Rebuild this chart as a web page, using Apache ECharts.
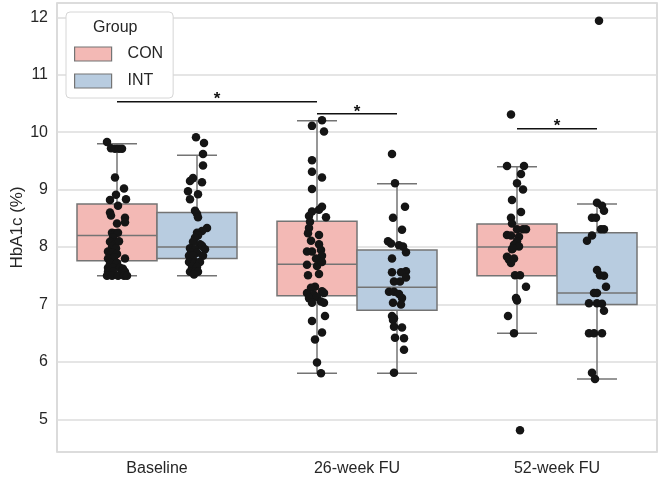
<!DOCTYPE html>
<html>
<head>
<meta charset="utf-8">
<script src="https://cdn.jsdelivr.net/npm/echarts@6/dist/echarts.min.js"></script>
<style>
  html, body { margin: 0; padding: 0; background: #fff; }
  #chart { width: 661px; height: 482px; }
</style>
</head>
<body>
<div id="chart"></div>
<script>
// categories and groups
const categories = ['Baseline', '26-week FU', '52-week FU'];
const groups = ['CON', 'INT'];

// box stats per category: [min, q1, median, q3, max]
const conBox = [[7.5, 7.76, 8.2, 8.75, 9.8], [5.8, 7.15, 7.7, 8.45, 10.2], [6.5, 7.5, 8.0, 8.4, 9.4]];
const intBox = [[7.5, 7.8, 8.0, 8.6, 9.6], [5.8, 6.9, 7.3, 7.95, 9.1], [5.7, 7.0, 7.2, 8.25, 8.75]];

// individual points: [jitter (category units), HbA1c]
const conBaseline = [
  [-0.05, 9.83], [-0.03, 9.72], [-0.01, 9.71], [0.01, 9.71], [0.025, 9.71], [-0.01, 9.21],
  [0.035, 9.02], [-0.005, 8.91], [0.045, 8.83], [-0.035, 8.82], [0.005, 8.72], [-0.035, 8.6],
  [-0.03, 8.55], [0.04, 8.51], [0, 8.41], [0.04, 8.43], [-0.025, 8.25], [-0.01, 8.24],
  [0.005, 8.25], [-0.02, 8.16], [-0.035, 8.09], [-0.01, 8.05], [0.01, 8.1], [-0.025, 8.0],
  [-0.005, 7.98], [-0.045, 7.92], [-0.025, 7.9], [0, 7.88], [-0.045, 7.8], [-0.015, 7.82],
  [0.04, 7.8], [-0.035, 7.72], [0, 7.72], [-0.045, 7.64], [-0.02, 7.64], [0.015, 7.64],
  [0.03, 7.62], [-0.045, 7.57], [-0.02, 7.57], [0.025, 7.57], [0.04, 7.57], [-0.05, 7.5],
  [-0.025, 7.5], [0.005, 7.5], [0.035, 7.5], [0.05, 7.5]
];
const intBaseline = [
  [-0.005, 9.91], [0.035, 9.81], [0.03, 9.62], [0.03, 9.42], [-0.02, 9.2], [-0.035, 9.15],
  [0.025, 9.13], [-0.045, 8.97], [0.005, 8.92], [-0.035, 8.83], [-0.01, 8.63], [0, 8.58],
  [0.005, 8.52], [0.05, 8.33], [0.025, 8.28], [0, 8.25], [0.005, 8.2], [-0.01, 8.16],
  [-0.02, 8.09], [0.015, 8.05], [0.025, 8.02], [-0.035, 7.98], [-0.01, 7.96], [0.04, 7.96],
  [-0.03, 7.9], [0, 7.9], [-0.04, 7.85], [-0.02, 7.85], [0.03, 7.85], [-0.04, 7.74],
  [-0.01, 7.74], [0.015, 7.74], [-0.025, 7.65], [0, 7.65], [-0.035, 7.57], [-0.01, 7.57],
  [0.005, 7.57], [-0.015, 7.52]
];
const conWeek26 = [
  [0.025, 10.21], [-0.025, 10.11], [0.035, 10.01], [-0.025, 9.51], [-0.025, 9.31], [0.025, 9.21],
  [-0.025, 9.01], [0.025, 8.7], [0.01, 8.65], [-0.025, 8.62], [0.045, 8.52], [-0.04, 8.54],
  [-0.035, 8.44], [-0.04, 8.33], [-0.045, 8.24], [0.01, 8.21], [-0.03, 8.11], [0.01, 8.05],
  [-0.05, 7.92], [-0.025, 7.92], [0.02, 7.95], [0.025, 7.85], [-0.005, 7.8], [-0.05, 7.69],
  [0, 7.67], [0.025, 7.74], [0.01, 7.53], [-0.045, 7.51], [-0.01, 7.31], [-0.03, 7.29],
  [0.025, 7.23], [0.035, 7.2], [-0.05, 7.2], [-0.015, 7.17], [-0.04, 7.11], [0, 7.13],
  [0.02, 7.05], [0.035, 7.03], [-0.025, 7.03], [0.04, 6.8], [-0.025, 6.71], [0.025, 6.51],
  [-0.01, 6.39], [0, 5.99], [0.02, 5.8]
];
const intWeek26 = [
  [-0.025, 9.62], [-0.01, 9.11], [0.04, 8.7], [-0.02, 8.51], [0.025, 8.3], [-0.045, 8.1],
  [-0.03, 8.06], [0.01, 8.03], [0.03, 8.01], [-0.025, 7.8], [0.045, 7.91], [0.045, 7.58],
  [0.02, 7.56], [-0.025, 7.56], [0.045, 7.47], [-0.015, 7.4], [0.015, 7.4], [-0.04, 7.22],
  [-0.015, 7.22], [0.01, 7.18], [0.025, 7.11], [-0.02, 7.03], [0.02, 7.0], [-0.025, 6.8],
  [-0.015, 6.76], [-0.02, 6.73], [-0.015, 6.61], [0.025, 6.6], [-0.01, 6.42], [0.035, 6.41],
  [0.035, 6.21], [-0.015, 5.81]
];
const conWeek52 = [
  [-0.03, 10.31], [-0.05, 9.41], [0.035, 9.41], [0.02, 9.27], [0, 9.11], [0.03, 9.0],
  [-0.025, 8.82], [0.02, 8.61], [-0.03, 8.51], [-0.025, 8.41], [0, 8.31], [0.03, 8.31],
  [0.045, 8.31], [-0.05, 8.21], [-0.03, 8.2], [0.01, 8.18], [0, 8.1], [-0.015, 8.04],
  [0.01, 8.01], [-0.025, 7.96], [-0.02, 7.98], [-0.05, 7.83], [-0.04, 7.78], [-0.015, 7.8],
  [-0.03, 7.72], [-0.01, 7.51], [0.015, 7.51], [0.045, 7.31], [-0.005, 7.11], [0, 7.07],
  [-0.045, 6.8], [-0.015, 6.5], [0.015, 4.81]
];
const intWeek52 = [
  [0.01, 11.94], [0, 8.77], [0.025, 8.72], [0.035, 8.63], [-0.025, 8.51], [-0.005, 8.51],
  [0.02, 8.31], [0.035, 8.31], [-0.025, 8.2], [-0.05, 8.11], [0, 7.6], [0.015, 7.51],
  [0.035, 7.5], [0.045, 7.31], [-0.015, 7.2], [0, 7.2], [-0.04, 7.02], [0, 7.02],
  [0.025, 7.01], [0.035, 6.89], [-0.04, 6.5], [-0.015, 6.5], [0.025, 6.5], [-0.025, 5.81],
  [-0.01, 5.7]
];

// significance bars: [category from, group from, category to, group to, height]
const sigBars = [[0, 'CON', 1, 'CON', 10.53], [1, 'CON', 1, 'INT', 10.32], [2, 'CON', 2, 'INT', 10.06]];

const colors = { CON: '#f3b9b5', INT: '#b8cce0' };
const edge = '#747474';
const dodge = { CON: -0.2, INT: 0.2 };
const font = '"Liberation Sans", Arial, sans-serif';

function boxData(stats, g) {
  return stats.map((s, i) => [i + dodge[g]].concat(s));
}
function pointData(lists, g) {
  let out = [];
  lists.forEach((pts, i) => pts.forEach(p => out.push([i + dodge[g] + p[0], p[1]])));
  return out;
}

function renderBox(params, api) {
  const x = api.value(0);
  const fill = colors[params.seriesName];
  const p = v => api.coord([x, v]);
  const xl = api.coord([x - 0.2, 0])[0], xr = api.coord([x + 0.2, 0])[0];
  const cl = api.coord([x - 0.1, 0])[0], cr = api.coord([x + 0.1, 0])[0];
  const cx = p(0)[0];
  const yMin = p(api.value(1))[1], yQ1 = p(api.value(2))[1], yMed = p(api.value(3))[1];
  const yQ3 = p(api.value(4))[1], yMax = p(api.value(5))[1];
  const ls = { stroke: edge, lineWidth: 1.5 };
  return {
    type: 'group',
    children: [
      { type: 'line', shape: { x1: cx, y1: yQ1, x2: cx, y2: yMin }, style: ls },
      { type: 'line', shape: { x1: cx, y1: yQ3, x2: cx, y2: yMax }, style: ls },
      { type: 'line', shape: { x1: cl, y1: yMin, x2: cr, y2: yMin }, style: ls },
      { type: 'line', shape: { x1: cl, y1: yMax, x2: cr, y2: yMax }, style: ls },
      { type: 'rect', shape: { x: xl, y: yQ3, width: xr - xl, height: yQ1 - yQ3 },
        style: { fill: fill, stroke: edge, lineWidth: 1.5 } },
      { type: 'line', shape: { x1: xl, y1: yMed, x2: xr, y2: yMed }, style: ls }
    ]
  };
}

function renderSig(params, api) {
  const a = api.coord([api.value(0), api.value(2)]);
  const b = api.coord([api.value(1), api.value(2)]);
  return {
    type: 'group',
    children: [
      { type: 'line', shape: { x1: a[0], y1: a[1], x2: b[0], y2: b[1] },
        style: { stroke: '#111', lineWidth: 1.5 } },
      { type: 'text', x: (a[0] + b[0]) / 2, y: a[1] - 2,
        style: { text: '*', fill: '#111', font: 'bold 17px ' + font, align: 'center', verticalAlign: 'middle' } }
    ]
  };
}

const chart = echarts.init(document.getElementById('chart'));
chart.setOption({
  animation: false,
  backgroundColor: '#fff',
  grid: { left: 57, right: 4, top: 3, bottom: 30, show: true, borderColor: '#d0d0d0', borderWidth: 1.5,
    outerBoundsMode: 'none', containLabel: false },
  xAxis: [
    { type: 'category', data: categories, axisLine: { show: false }, axisTick: { show: false },
      axisLabel: { fontSize: 16, color: '#262626', fontFamily: font, margin: 9 } },
    { type: 'value', min: -0.5, max: 2.5, show: false }
  ],
  yAxis: {
    type: 'value', min: 4.43, max: 12.25, splitNumber: 8,
    name: 'HbA1c (%)', nameLocation: 'middle', nameGap: 31, nameMoveOverlap: false,
    nameTextStyle: { fontSize: 17, color: '#262626', fontFamily: font },
    axisLine: { show: false }, axisTick: { show: false },
    axisLabel: { fontSize: 16, color: '#262626', fontFamily: font, margin: 9,
      formatter: v => (Math.abs(v - Math.round(v)) < 1e-6 ? String(Math.round(v)) : '') },
    splitLine: { lineStyle: { color: '#dcdcdc', width: 1.5 } }
  },
  legend: {
    orient: 'vertical', left: 66, top: 12, selectedMode: false,
    padding: [34, 10, 9, 8], itemWidth: 37, itemHeight: 14, itemGap: 11,
    backgroundColor: '#fff', borderColor: '#d6d6d6', borderWidth: 1, borderRadius: 4,
    textStyle: { fontSize: 16, color: '#262626', fontFamily: font, padding: [0, 0, 0, 11] },
    data: groups.map(g => ({ name: g, icon: 'rect', itemStyle: { color: colors[g], borderColor: edge, borderWidth: 1.2 } }))
  },
  graphic: [{ type: 'text', left: 93, top: 20, z: 100,
    style: { text: 'Group', font: '16px ' + font, fill: '#262626' } }],
  series: [
    { name: 'CON', type: 'custom', xAxisIndex: 1, z: 2, renderItem: renderBox, data: boxData(conBox, 'CON'), itemStyle: { color: colors.CON } },
    { name: 'INT', type: 'custom', xAxisIndex: 1, z: 2, renderItem: renderBox, data: boxData(intBox, 'INT'), itemStyle: { color: colors.INT } },
    { type: 'scatter', xAxisIndex: 1, z: 3, symbolSize: 8.5, itemStyle: { color: '#151515', opacity: 1 },
      data: pointData([conBaseline, conWeek26, conWeek52], 'CON') },
    { type: 'scatter', xAxisIndex: 1, z: 3, symbolSize: 8.5, itemStyle: { color: '#151515', opacity: 1 },
      data: pointData([intBaseline, intWeek26, intWeek52], 'INT') },
    { type: 'custom', xAxisIndex: 1, z: 4, renderItem: renderSig,
      data: sigBars.map(s => [s[0] + dodge[s[1]], s[2] + dodge[s[3]], s[4]]) }
  ]
});
</script>
</body>
</html>
